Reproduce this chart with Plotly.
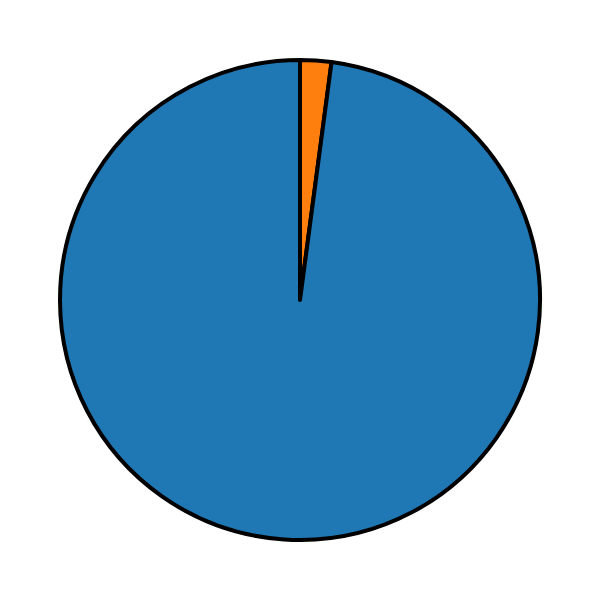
import plotly.graph_objects as go

labels = ["A", "B"]
values = [97.9, 2.1]
colors = ["#1f77b4", "#ff7f0e"]

fig = go.Figure(go.Pie(
    labels=labels[::-1],
    values=values[::-1],
    sort=False,
    direction="clockwise",
    rotation=0,
    textinfo="none",
    hoverinfo="label+percent",
    marker=dict(colors=colors[::-1], line=dict(color="black", width=4)),
))
fig.update_layout(
    width=600, height=600,
    margin=dict(l=60, r=60, t=60, b=60),
    showlegend=False,
    paper_bgcolor="white",
    plot_bgcolor="white",
)
fig.write_html("out.html")
